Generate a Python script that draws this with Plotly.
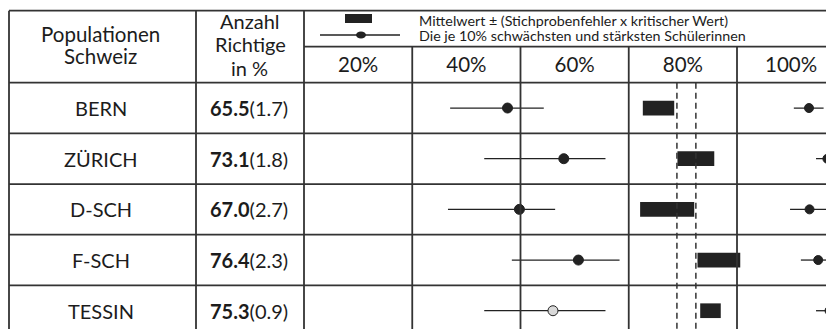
import plotly.graph_objects as go

# ---------------- data ----------------
populations = ["BERN", "ZÜRICH", "D-SCH", "F-SCH", "TESSIN"]
mean_correct = [65.5, 73.1, 67.0, 76.4, 75.3]
std_error = [1.7, 1.8, 2.7, 2.3, 0.9]
ci_low = [72.6, 79.0, 72.1, 82.7, 83.2]
ci_high = [78.4, 85.8, 82.1, 90.6, 87.0]
p10 = [37.0, 43.3, 36.6, 48.4, 43.3]
p90 = [54.3, 65.7, 56.4, 68.3, 65.7]
centre = [47.6, 58.0, 49.8, 60.7, 56.0]
right_low = [100.5, 104.6, 99.8, 101.8, 104.6]
right_high = [106.0, 110.0, 107.2, 107.2, 110.0]
right_dot = [103.3, 106.7, 103.4, 105.0, 107.1]
open_marker = [False, False, False, False, True]
reference_band = [78.9, 82.4]
tick_values = [20, 40, 60, 80, 100]
tick_labels = ["20%", "40%", "60%", "80%", "100%"]

# page is 834 x 329; the html body has an 8px margin, so the figure is
# placed at (8, 8) and sized to fill the rest of the window
PAGE_W, PAGE_H = 834, 329
OFF = 8
W, H = PAGE_W - OFF, PAGE_H - OFF
FONT = "Lato"
INK = "#1c1c1c"
GRID = "#333333"
MARK = "#222222"


def px(x):
    return (x - OFF) / W


def py(y):
    return 1 - (y - OFF) / H


TOP, SUB, HEAD = 10.7, 46.7, 82.7
ROW_H = 50.67
LEFT, C1, C2 = 9, 196, 304
PX_PER_PCT = 5.4125
y_bottom = -0.5 + (PAGE_H - HEAD) / ROW_H

fig = go.Figure()

# CI bars
fig.add_trace(go.Bar(
    y=populations, base=ci_low, x=[h - l for l, h in zip(ci_low, ci_high)],
    orientation="h", width=0.29, marker=dict(color=MARK, line=dict(width=0)),
    hoverinfo="skip"))


def seg(lows, highs):
    xs, ys = [], []
    for l, h, p in zip(lows, highs, populations):
        xs += [l, h, None]
        ys += [p, p, None]
    return xs, ys


main_fill = ["#d9d9d9" if o else MARK for o in open_marker]
for lows, highs, dots, size, fill in [(p10, p90, centre, 10, main_fill),
                                      (right_low, right_high, right_dot, 9, MARK)]:
    xs, ys = seg(lows, highs)
    fig.add_trace(go.Scatter(x=xs, y=ys, mode="lines",
                             line=dict(color=MARK, width=1.3), hoverinfo="skip"))
    fig.add_trace(go.Scatter(
        x=dots, y=populations, mode="markers", hoverinfo="skip",
        marker=dict(size=size, color=fill, line=dict(color=MARK, width=1))))

shapes = []


def hline(y, x0, x1):
    shapes.append(dict(type="line", xref="paper", yref="paper", x0=px(x0), x1=px(x1),
                       y0=py(y), y1=py(y), line=dict(color=GRID, width=1.8)))


def vline(x, y0, y1):
    shapes.append(dict(type="line", xref="paper", yref="paper", x0=px(x), x1=px(x),
                       y0=py(y0), y1=py(y1), line=dict(color=GRID, width=1.8)))


hline(TOP, LEFT, PAGE_W)
hline(SUB, C2, PAGE_W)
hline(HEAD, LEFT, PAGE_W)
for i in range(1, 5):
    hline(HEAD + i * ROW_H, LEFT, PAGE_W)
for x in (LEFT, C1, C2):
    vline(x, TOP, PAGE_H)
# column dividers between tick columns (drawn through the x axis)
for t in tick_values[:-1]:
    b = t + 10
    shapes.append(dict(type="line", xref="x", yref="paper", x0=b, x1=b,
                       y0=0, y1=py(SUB), line=dict(color=GRID, width=1.8)))
# reference band dashed lines
for r in reference_band:
    shapes.append(dict(type="line", xref="x", yref="paper", x0=r, x1=r,
                       y0=py(HEAD), y1=0, line=dict(color=GRID, width=1.5, dash="6px,4px")))
# legend glyphs
shapes.append(dict(type="rect", xref="paper", yref="paper", x0=px(345), x1=px(372),
                   y0=py(14), y1=py(23), fillcolor=MARK, line=dict(width=0)))
shapes.append(dict(type="line", xref="paper", yref="paper", x0=px(320), x1=px(400),
                   y0=py(35), y1=py(35), line=dict(color=MARK, width=1.3)))
shapes.append(dict(type="circle", xref="paper", yref="paper", x0=px(356), x1=px(366),
                   y0=py(31.5), y1=py(38.5), fillcolor=MARK, line=dict(width=0)))

ann = []


def text(s, x, y, size, xanchor="center", yref="paper"):
    ann.append(dict(text=s, x=px(x), y=(py(y) if yref == "paper" else y), xref="paper",
                    yref=yref, xanchor=xanchor, yanchor="middle", showarrow=False,
                    font=dict(family=FONT, size=size, color=INK)))


text("Populationen", 100, 34, 20.5)
text("Schweiz", 100, 56, 20.5)
text("Anzahl", 250, 21, 20)
text("Richtige", 250, 44, 20)
text("in %", 249, 68, 20)
text("Mittelwert ± (Stichprobenfehler x kritischer Wert)", 417, 20.5, 14.3, xanchor="left")
text("Die je 10% schwächsten und stärksten Schülerinnen", 417, 35, 14.3, xanchor="left")
for p, m, s in zip(populations, mean_correct, std_error):
    text(p, 101, p, 20, yref="y")
    text(f"<b>{m:.1f}</b>({s:.1f})", 249, p, 20, yref="y")

fig.update_layout(
    width=W, height=H, margin=dict(l=0, r=0, t=0, b=0),
    paper_bgcolor="white", plot_bgcolor="white", showlegend=False,
    barmode="overlay", shapes=shapes, annotations=ann,
    xaxis=dict(domain=[px(C2), 1], range=[10, 10 + (PAGE_W - C2) / PX_PER_PCT], side="top",
               tickvals=tick_values, ticktext=tick_labels, showgrid=False, zeroline=False,
               showline=False, ticks="", tickfont=dict(family=FONT, size=20.5, color=INK),
               ticklabelstandoff=6, fixedrange=True),
    yaxis=dict(domain=[0, py(HEAD)], type="category", categoryarray=populations,
               range=[y_bottom, -0.5], showgrid=False, zeroline=False, showline=False,
               showticklabels=False, ticks="", fixedrange=True),
)

fig.write_html("out.html")
